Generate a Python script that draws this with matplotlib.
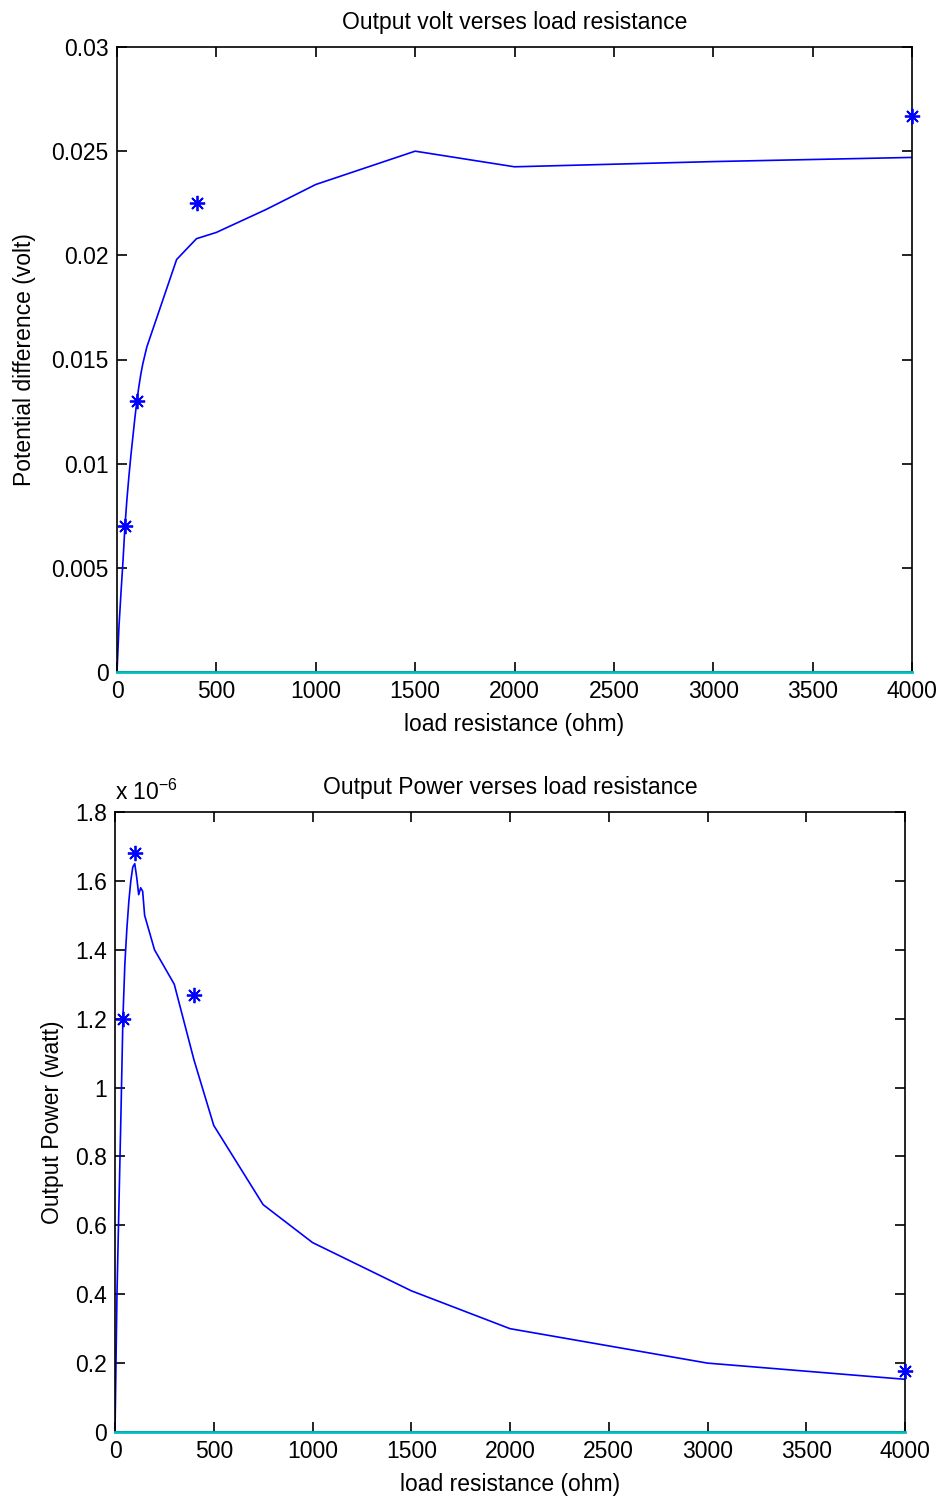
import numpy as np
import matplotlib
matplotlib.use('Agg')
import matplotlib.pyplot as plt
from matplotlib.ticker import FuncFormatter, MultipleLocator

plt.rcParams['font.family'] = ['Liberation Sans', 'DejaVu Sans']
plt.rcParams['mathtext.default'] = 'regular'

# load resistance (ohm) for the curves
R = [0, 10, 20, 30, 40, 50, 60, 70, 80, 90, 100, 110, 120, 130, 140, 150,
     200, 300, 400, 500, 750, 1000, 1500, 2000, 3000, 4000]
# output voltage (volt)
V = [0, 0.0022, 0.0038, 0.0053, 0.0070, 0.0083, 0.0094, 0.0104, 0.0113, 0.0122,
     0.0130, 0.0137, 0.0143, 0.0148, 0.0152, 0.0156,
     0.0170, 0.0198, 0.0208, 0.0211, 0.0222, 0.0234, 0.0250, 0.02425, 0.0245, 0.0247]
# output power (watt)
P = [0, 0.40e-6, 0.66e-6, 0.92e-6, 1.20e-6, 1.36e-6, 1.46e-6, 1.54e-6, 1.60e-6, 1.64e-6,
     1.65e-6, 1.61e-6, 1.56e-6, 1.58e-6, 1.57e-6, 1.50e-6,
     1.40e-6, 1.30e-6, 1.08e-6, 0.89e-6, 0.66e-6, 0.55e-6, 0.41e-6, 0.30e-6, 0.20e-6, 0.153e-6]

# measured points
R_meas = [40, 100, 400, 4000]
V_meas = [0.0070, 0.0130, 0.0225, 0.0267]
P_meas = [1.20e-6, 1.68e-6, 1.27e-6, 0.177e-6]

blue = '#0000ff'
cyan = '#00bfbf'
fs = 16.5
star = (8, 2, 0)

fig = plt.figure(figsize=(9.4, 14.98), dpi=100)
ax1 = fig.add_axes([117 / 940, 1 - 672 / 1498, 795 / 940, 625 / 1498])
ax2 = fig.add_axes([115 / 940, 1 - 1432 / 1498, 790 / 940, 620 / 1498])


def style(ax):
    ax.tick_params(direction='in', top=True, right=True, length=7, width=1.2,
                   labelsize=fs, pad=6)
    for s in ax.spines.values():
        s.set_linewidth(1.2)
    ax.xaxis.set_major_locator(MultipleLocator(500))
    ax.set_xlim(0, 4000)
    ax.set_xlabel('load resistance (ohm)', fontsize=fs, labelpad=7)


ax1.plot(R, V, color=blue, lw=1.2)
ax1.plot(R_meas, V_meas, linestyle='none', marker=star, color=blue, ms=11, mew=1.3,
         clip_on=False, zorder=4)
ax1.plot([0, 4000], [0, 0], color=cyan, lw=2, clip_on=False, zorder=3)
style(ax1)
ax1.set_ylim(0, 0.03)
ax1.yaxis.set_major_locator(MultipleLocator(0.005))
ax1.yaxis.set_major_formatter(FuncFormatter(lambda v, p: '%g' % round(v, 4)))
ax1.set_title('Output volt verses load resistance', fontsize=fs, pad=13)
ax1.set_ylabel('Potential difference (volt)', fontsize=fs, labelpad=11)

ax2.plot(R, P, color=blue, lw=1.2)
ax2.plot(R_meas, P_meas, linestyle='none', marker=star, color=blue, ms=11, mew=1.3,
         clip_on=False, zorder=4)
ax2.plot([0, 4000], [0, 0], color=cyan, lw=2, clip_on=False, zorder=3)
style(ax2)
ax2.set_ylim(0, 1.8e-6)
ax2.yaxis.set_major_locator(MultipleLocator(0.2e-6))
ax2.yaxis.set_major_formatter(FuncFormatter(lambda v, p: '%g' % round(v * 1e6, 2)))
ax2.set_title('Output Power verses load resistance', fontsize=fs, pad=13)
ax2.set_ylabel('Output Power (watt)', fontsize=fs, labelpad=8)
ax2.text(0, 1.012, r'x 10$^{-6}$', transform=ax2.transAxes, fontsize=fs,
         ha='left', va='bottom')

fig.savefig('out.png', dpi=100)
